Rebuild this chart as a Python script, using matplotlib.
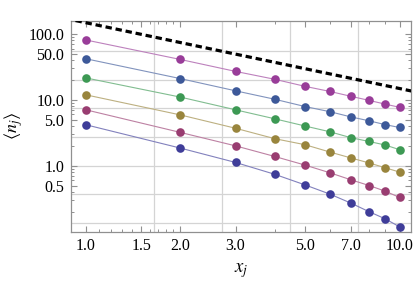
import matplotlib

matplotlib.use("Agg")
import matplotlib.pyplot as plt
import numpy as np
from matplotlib.ticker import FixedLocator, FormatStrFormatter, NullFormatter


plt.rcParams["font.family"] = ["Liberation Serif", "DejaVu Serif"]
plt.rcParams["mathtext.fontset"] = "stix"

x_vals = [1, 2, 3, 4, 5, 6, 7, 8, 9, 10]

# series, top to bottom
n_magenta = [81, 41, 27, 20.5, 16, 13.4, 11.3, 9.8, 8.6, 7.7]
n_blue = [42, 21, 13.7, 10.2, 7.9, 6.6, 5.5, 4.8, 4.2, 3.8]
n_green = [21.5, 11, 7.05, 5.15, 4.0, 3.27, 2.66, 2.33, 2.06, 1.75]
n_olive = [11.9, 5.9, 3.7, 2.57, 2.08, 1.61, 1.31, 1.1, 0.93, 0.8]
n_crimson = [7.05, 3.2, 2.0, 1.38, 1.02, 0.78, 0.61, 0.5, 0.41, 0.33]
n_indigo = [4.18, 1.85, 1.12, 0.74, 0.51, 0.37, 0.27, 0.2, 0.156, 0.118]

# dashed reference line (end points)
dash_x = [0.8, 11.0]
dash_y = [185, 13.5]

x_ticks = [1.0, 1.5, 2.0, 3.0, 5.0, 7.0, 10.0]
y_ticks = [0.5, 1.0, 5.0, 10.0, 50.0, 100.0]

SERIES = [
    (n_indigo, (0.247, 0.24, 0.6)),
    (n_crimson, (0.6, 0.24, 0.442)),
    (n_olive, (0.6, 0.521, 0.24)),
    (n_green, (0.24, 0.6, 0.33)),
    (n_blue, (0.24, 0.35, 0.6)),
    (n_magenta, (0.6, 0.24, 0.6)),
]


def lighten(color, amount=0.35):
    c = np.array(color)
    return tuple(c + (1 - c) * amount)


def main() -> None:
    fig = plt.figure(figsize=(4.15, 2.81), dpi=100)
    ax = fig.add_axes([0.171, 0.176, 0.820, 0.751])
    ax.set_xscale("log")
    ax.set_yscale("log")
    ax.set_xlim(0.896, 10.9)
    ax.set_ylim(0.1, 160)

    # grid at natural-log positions
    for k in [0.5, 1.0, 1.5, 2.0]:
        ax.axvline(np.exp(k), color="#d4d4d4", lw=0.9, zorder=0)
    for k in range(-2, 5):
        ax.axhline(np.exp(k), color="#d4d4d4", lw=0.9, zorder=0)

    for values, color in SERIES:
        ax.plot(x_vals, values, color=lighten(color), lw=0.8, zorder=2)
        ax.plot(x_vals, values, "o", color=color, ms=6.2, mec="none", zorder=3)

    ax.plot(dash_x, dash_y, color="black", lw=2.3, linestyle=(0, (2.0, 1.2)), zorder=4)

    ax.xaxis.set_major_locator(FixedLocator(x_ticks))
    ax.xaxis.set_major_formatter(FormatStrFormatter("%.1f"))
    ax.xaxis.set_minor_locator(FixedLocator([1.1, 1.2, 1.3, 1.4, 1.6, 1.7, 1.8, 1.9, 4, 6, 8, 9]))
    ax.xaxis.set_minor_formatter(NullFormatter())

    y_minor = [m * d for d in [0.1, 1, 10, 100] for m in [1, 2, 3, 4, 6, 7, 8, 9]]
    y_minor = [v for v in y_minor if v not in y_ticks]
    ax.yaxis.set_major_locator(FixedLocator(y_ticks))
    ax.yaxis.set_major_formatter(FormatStrFormatter("%.1f"))
    ax.yaxis.set_minor_locator(FixedLocator(y_minor))
    ax.yaxis.set_minor_formatter(NullFormatter())

    for spine in ax.spines.values():
        spine.set_color("#909090")
        spine.set_linewidth(0.9)
    ax.tick_params(which="both", direction="in", top=True, right=True,
                   color="#909090", labelsize=11.5, labelcolor="black")
    ax.tick_params(which="major", length=4.0, width=0.8, pad=5)
    ax.tick_params(which="minor", length=2.2, width=0.7)

    ax.set_xlabel(r"$x_j$", fontsize=13.5, labelpad=5)
    ax.set_ylabel(r"$\langle n_j \rangle$", fontsize=13)
    ax.yaxis.set_label_coords(-0.135, 0.5)

    fig.savefig("out.png", dpi=100)
    plt.close(fig)


if __name__ == "__main__":
    main()
